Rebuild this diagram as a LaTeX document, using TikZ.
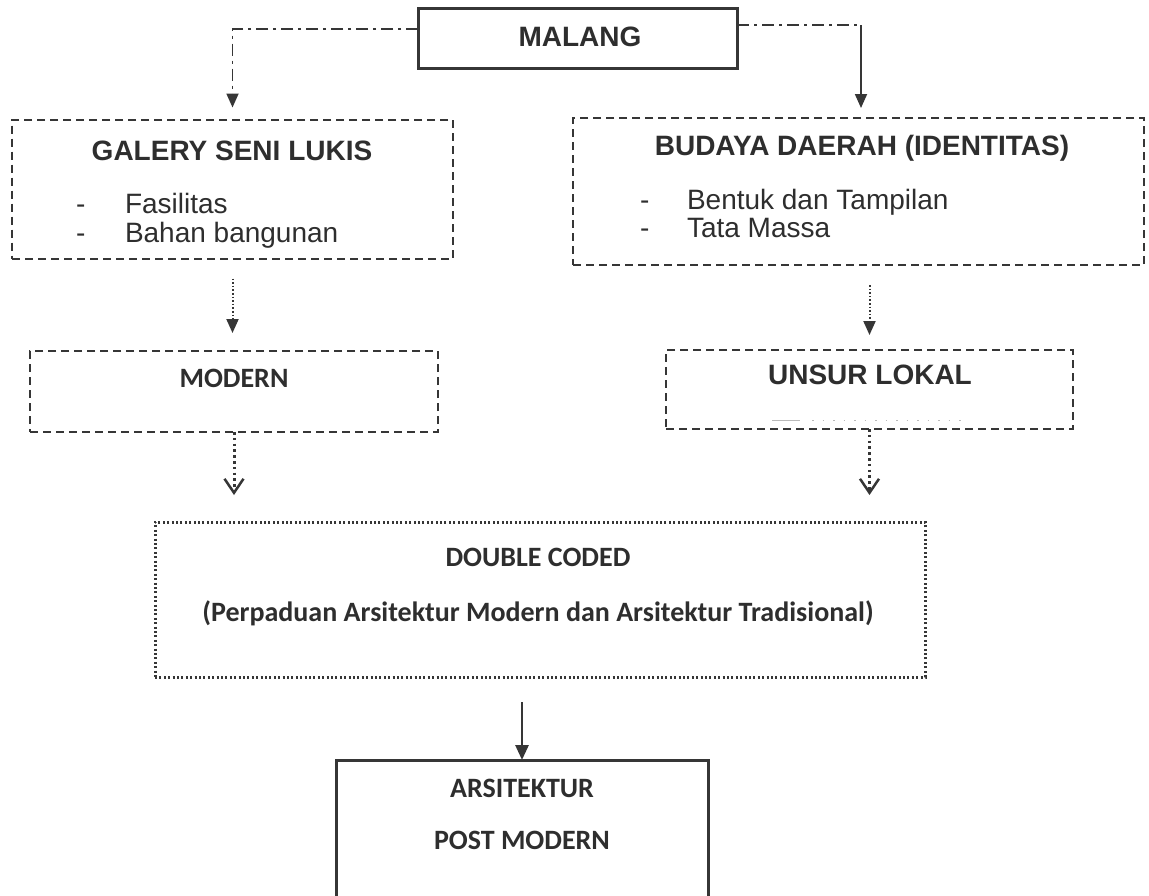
\documentclass[tikz,border=0pt]{standalone}
\usepackage{fontspec}
\setmainfont{Liberation Sans}
\newfontfamily\calib{Carlito}
\usetikzlibrary{arrows.meta}
\definecolor{ink}{HTML}{363636}
\definecolor{txt}{HTML}{2E2E2E}
\begin{document}
\begin{tikzpicture}[x=1pt,y=-1pt,
  every node/.style={inner sep=0pt, outer sep=0pt, text=txt},
  boxbase/.style={draw=ink, rectangle},
  solidbox/.style={boxbase, line width=3pt},
  dashbox/.style={boxbase, line width=2pt, dash pattern=on 8pt off 5pt},
  dashboxb/.style={boxbase, line width=2.5pt, dash pattern=on 8pt off 5pt},
  dotbox/.style={boxbase, line width=3pt, dash pattern=on 2pt off 2.4pt},
  arialtitle/.style={font=\fontsize{28}{32}\selectfont\bfseries},
  arialitem/.style={font=\fontsize{28}{32}\selectfont, anchor=base west},
  calibtitle/.style={font=\calib\fontsize{28}{32}\selectfont\bfseries},
  dashdotline/.style={draw=ink, line width=1.8pt, dash pattern=on 12pt off 5pt on 3pt off 5pt},
  filledtip/.style={-{Triangle[length=14pt,width=12pt]}},
  chevron/.style={-{Straight Barb[length=14pt,width=19pt,line width=2.5pt]}},
  fineDots/.style={draw=ink, line width=2pt, dash pattern=on 1.6pt off 2pt},
  bigDots/.style={draw=ink, line width=3pt, dash pattern=on 2.6pt off 3.2pt},
]
\clip (0,0) rectangle (1149,895);
\useasboundingbox (0,0) rectangle (1149,895);
\fill[white] (0,0) rectangle (1149,895);

% boxes
\node[solidbox, minimum width=319pt, minimum height=60pt] (malang) at (577.5,38) {};
\node[dashbox, minimum width=441pt, minimum height=139pt] (galery) at (232.5,189) {};
\node[dashbox, minimum width=571pt, minimum height=147pt] (budaya) at (858.5,191.5) {};
\node[dashboxb, minimum width=408pt, minimum height=81pt] (modern) at (234,391.5) {};
\node[dashboxb, minimum width=407pt, minimum height=79pt] (unsur) at (869.5,389.5) {};
\node[dotbox, minimum width=770pt, minimum height=155pt] (double) at (540,599.5) {};
\node[solidbox, minimum width=372pt, minimum height=220pt] (post) at (522,870) {};

% texts
\node[arialtitle] (tmalang) at (580,37) {MALANG};
\node[arialtitle] (tgalery) at (232,151) {GALERY SENI LUKIS};
\node[arialitem] (gd1) at (76,213) {-};
\node[arialitem] (gi1) at (125,213) {Fasilitas};
\node[arialitem] (gd2) at (76,242) {-};
\node[arialitem] (gi2) at (125,242) {Bahan bangunan};
\node[arialtitle] (tbudaya) at (862,148) {BUDAYA DAERAH (IDENTITAS)};
\node[arialitem] (bd1) at (640,209) {-};
\node[arialitem] (bi1) at (687,209) {Bentuk dan Tampilan};
\node[arialitem] (bd2) at (640,237) {-};
\node[arialitem] (bi2) at (687,237) {Tata Massa};
\node[calibtitle] (tmodern) at (234,378) {MODERN};
\node[arialtitle] (tunsur) at (870,375) {UNSUR LOKAL};
\node[calibtitle] (tdouble) at (538,557) {DOUBLE CODED};
\node[calibtitle] (tperp) at (538,613) {(Perpaduan Arsitektur Modern dan Arsitektur Tradisional)};
\node[calibtitle] (tars) at (522,788) {ARSITEKTUR};
\node[calibtitle] (tpost) at (522,840) {POST MODERN};

% faint remnant line inside the local-elements box
\draw[gray!55, line width=1pt] (772,420) -- (800,420);
\draw[gray!55, line width=1pt, dash pattern=on 1.5pt off 9pt] (812,420) -- (967,420);

% connectors from the top box
\draw[dashdotline, filledtip, shorten >=12pt]
  ([yshift=9pt]malang.west) -| (galery.north);
\coordinate (rc) at (861,25);
\draw[dashdotline] ([yshift=13pt]malang.east) -- (rc);
\draw[draw=ink, line width=1.8pt, filledtip, shorten >=10pt] (rc) -- (rc |- budaya.north);

% dotted arrows down to the style boxes
\draw[fineDots, filledtip, shorten <=20pt, shorten >=18pt]
  (galery.south) -- (galery.south |- modern.north);
\draw[fineDots, filledtip, shorten <=20pt, shorten >=15pt]
  (unsur.north |- budaya.south) -- (unsur.north);

% dotted arrows into the combined box
\draw[bigDots, chevron, shorten >=27pt]
  (modern.south) -- (modern.south |- double.north);
\draw[bigDots, chevron, shorten >=27pt]
  (unsur.south) -- (unsur.south |- double.north);

% final solid arrow
\draw[draw=ink, line width=2.8pt, -{Triangle[length=15pt,width=13pt]}, shorten <=25pt]
  (post.north |- double.south) -- (post.north);
\end{tikzpicture}
\end{document}
